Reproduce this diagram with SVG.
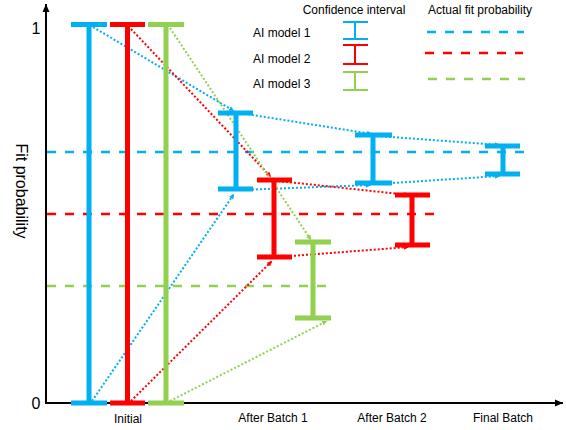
<svg xmlns="http://www.w3.org/2000/svg" width="566" height="430" viewBox="0 0 566 430">
<style>
text{font-family:"Liberation Sans",Arial,sans-serif;fill:#000}
.lbl{font-size:12px}
.big{font-size:16px}
.bar{fill:none;stroke-width:5;stroke-linecap:butt}
.lg{fill:none;stroke-width:2}
.dash{fill:none;stroke-width:2.5;stroke-dasharray:9 9}
.dot{fill:none;stroke-width:2;stroke-dasharray:2 2}
.b{stroke:#00B0F0}
.r{stroke:#FF0000}
.g{stroke:#92D050}
.ax{stroke:#000;stroke-width:2;fill:none}
</style>
<defs>
<marker id="ab" markerUnits="userSpaceOnUse" markerWidth="6" markerHeight="6" refX="5" refY="3" orient="auto"><path d="M0,0.5 L5,3 L0,5.5 Z" fill="#00B0F0"/></marker>
<marker id="ar" markerUnits="userSpaceOnUse" markerWidth="6" markerHeight="6" refX="5" refY="3" orient="auto"><path d="M0,0.5 L5,3 L0,5.5 Z" fill="#FF0000"/></marker>
<marker id="ag" markerUnits="userSpaceOnUse" markerWidth="6" markerHeight="6" refX="5" refY="3" orient="auto"><path d="M0,0.5 L5,3 L0,5.5 Z" fill="#92D050"/></marker>
<marker id="ak" markerUnits="userSpaceOnUse" markerWidth="10" markerHeight="8" refX="8" refY="4" orient="auto"><path d="M0,0.5 L8,4 L0,7.5 Z" fill="#000"/></marker>
</defs>

<g id="axes">
<line class="ax" x1="46" y1="404" x2="46" y2="4" marker-end="url(#ak)"/>
<line class="ax" x1="45" y1="403" x2="563" y2="403" marker-end="url(#ak)"/>
<text class="big" x="36" y="34" text-anchor="middle">1</text>
<text class="big" x="36" y="409" text-anchor="middle">0</text>
<text class="big" transform="translate(16,191) rotate(90)" text-anchor="middle">Fit probability</text>
<text class="lbl" x="128" y="423" text-anchor="middle">Initial</text>
<text class="lbl" x="273" y="422" text-anchor="middle">After Batch 1</text>
<text class="lbl" x="392" y="422" text-anchor="middle">After Batch 2</text>
<text class="lbl" x="503" y="422" text-anchor="middle">Final Batch</text>
</g>

<g id="actual-fit">
<line class="dash b" x1="47" y1="152" x2="531" y2="152"/>
<line class="dash r" x1="47" y1="214" x2="436" y2="214"/>
<line class="dash g" x1="47" y1="286" x2="326" y2="286"/>
</g>

<g id="legend">
<text class="lbl" x="354" y="14" text-anchor="middle">Confidence interval</text>
<text class="lbl" x="480" y="14" text-anchor="middle">Actual fit probability</text>
<text class="lbl" x="253" y="37">AI model 1</text>
<text class="lbl" x="253" y="63">AI model 2</text>
<text class="lbl" x="253" y="88">AI model 3</text>
<path class="lg b" d="M343,22H368M355,22V39M343,39H368"/>
<path class="lg r" d="M343,45H368M355,45V64M343,64H368"/>
<path class="lg g" d="M343,72H368M355,72V90M343,90H368"/>
<line class="dash b" x1="427" y1="32" x2="524" y2="32"/>
<line class="dash r" x1="425" y1="53" x2="523" y2="53"/>
<line class="dash g" x1="428" y1="79" x2="525" y2="79"/>
</g>

<g id="connectors">
<line class="dot b" x1="93" y1="27" x2="234" y2="111" marker-end="url(#ab)"/>
<line class="dot b" x1="92" y1="401" x2="234" y2="194" marker-end="url(#ab)"/>
<line class="dot b" x1="240" y1="113" x2="372" y2="134" marker-end="url(#ab)"/>
<line class="dot b" x1="240" y1="190" x2="371" y2="185" marker-end="url(#ab)"/>
<line class="dot b" x1="377" y1="136" x2="500" y2="145" marker-end="url(#ab)"/>
<line class="dot b" x1="377" y1="184" x2="500" y2="176" marker-end="url(#ab)"/>
<line class="dot r" x1="131" y1="29" x2="271" y2="177" marker-end="url(#ar)"/>
<line class="dot r" x1="131" y1="401" x2="272" y2="261" marker-end="url(#ar)"/>
<line class="dot r" x1="278" y1="181" x2="409" y2="195" marker-end="url(#ar)"/>
<line class="dot r" x1="278" y1="257" x2="409" y2="247" marker-end="url(#ar)"/>
<line class="dot g" x1="170" y1="28" x2="311" y2="240" marker-end="url(#ag)"/>
<line class="dot g" x1="170" y1="401" x2="327" y2="321" marker-end="url(#ag)"/>
</g>

<g id="initial-model1"><path class="bar b" d="M71,24.5H107M89,24.5V403M71,403H107"/></g>
<g id="initial-model2"><path class="bar r" d="M110,24.5H145M127.5,24.5V403M110,403H145"/></g>
<g id="initial-model3"><path class="bar g" d="M148,24.5H184M166,24.5V403M148,403H184"/></g>

<g id="batch1-model1"><path class="bar b" d="M218,113H253M236,113V189M218,189H253"/></g>
<g id="batch1-model2"><path class="bar r" d="M257,180H292M274,180V257M257,257H292"/></g>
<g id="batch1-model3"><path class="bar g" d="M295,242H331M313,242V318M295,318H331"/></g>

<g id="batch2-model1"><path class="bar b" d="M355,135H392M373,135V183M355,183H392"/></g>
<g id="batch2-model2"><path class="bar r" d="M395,195H430M412,195V245M395,245H430"/></g>

<g id="final-model1"><path class="bar b" d="M485,146H520M503,146V174M485,174H520"/></g>
</svg>
